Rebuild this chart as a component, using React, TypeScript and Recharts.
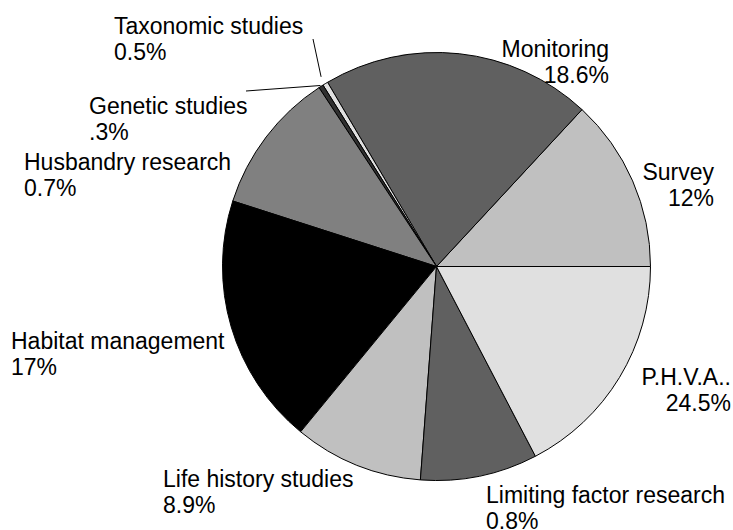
import React from 'react';
import { PieChart, Pie, Cell } from 'recharts';

const categories = [
  'Survey',
  'Monitoring',
  'Taxonomic studies',
  'Genetic studies',
  'Husbandry research',
  'Habitat management',
  'Life history studies',
  'Limiting factor research',
  'P.H.V.A..',
];

// share of the circle each slice takes in the picture (%)
const shares = [13.1, 20.4, 0.4, 0.35, 10.8, 19.0, 9.75, 8.85, 17.35];

// percentages printed under each label (as in the source)
const labelTexts = ['12%', '18.6%', '0.5%', '.3%', '0.7%', '17%', '8.9%', '0.8%', '24.5%'];

const fills = ['#c0c0c0', '#606060', '#e0e0e0', '#303030', '#808080', '#000000', '#c0c0c0', '#606060', '#e0e0e0'];

const data = categories.map((name, i) => ({ name, value: shares[i] }));

// hand placed labels, like the original
const labelPos: { x: number; y: number; anchor: 'start' | 'end' }[] = [
  { x: 714, y: 180, anchor: 'end' },
  { x: 609, y: 57, anchor: 'end' },
  { x: 114, y: 34, anchor: 'start' },
  { x: 89, y: 114, anchor: 'start' },
  { x: 24, y: 170, anchor: 'start' },
  { x: 11, y: 349, anchor: 'start' },
  { x: 163, y: 487, anchor: 'start' },
  { x: 486, y: 503, anchor: 'start' },
  { x: 731, y: 385, anchor: 'end' },
];

const RADIAN = Math.PI / 180;
const FONT = '"Liberation Sans", Arial, sans-serif';

// @ts-ignore
const renderLabel = (props) => {
  const { cx, cy, midAngle, outerRadius, index } = props;
  const pos = labelPos[index];
  let leader = null;
  if (index === 2 || index === 3) {
    const r = index === 2 ? outerRadius + 8 : outerRadius + 1;
    const sx = cx + r * Math.cos(-midAngle * RADIAN);
    const sy = cy + r * Math.sin(-midAngle * RADIAN);
    const end = index === 2 ? { x: 313, y: 39 } : { x: 246, y: 91 };
    leader = <line x1={sx} y1={sy} x2={end.x} y2={end.y} stroke="#000" strokeWidth={1} />;
  }
  return (
    <g key={`label-${index}`}>
      {leader}
      <text x={pos.x} y={pos.y} textAnchor={pos.anchor} fill="#000" fontFamily={FONT} fontSize={23}>
        <tspan x={pos.x}>{categories[index]}</tspan>
        <tspan x={pos.x} dy={25.5}>{labelTexts[index]}</tspan>
      </text>
    </g>
  );
};

export default function App() {
  return (
    <div style={{ position: 'absolute', left: 0, top: 0 }}>
      <PieChart width={733} height={530} margin={{ top: 0, right: 0, bottom: 0, left: 0 }}>
        <Pie
          data={data}
          dataKey="value"
          nameKey="name"
          cx={436.5}
          cy={266.5}
          outerRadius={214}
          startAngle={0}
          endAngle={360}
          stroke="#000"
          strokeWidth={1}
          label={renderLabel}
          labelLine={false}
          isAnimationActive={false}
        >
          {data.map((d, i) => (
            <Cell key={d.name} fill={fills[i]} />
          ))}
        </Pie>
      </PieChart>
    </div>
  );
}
